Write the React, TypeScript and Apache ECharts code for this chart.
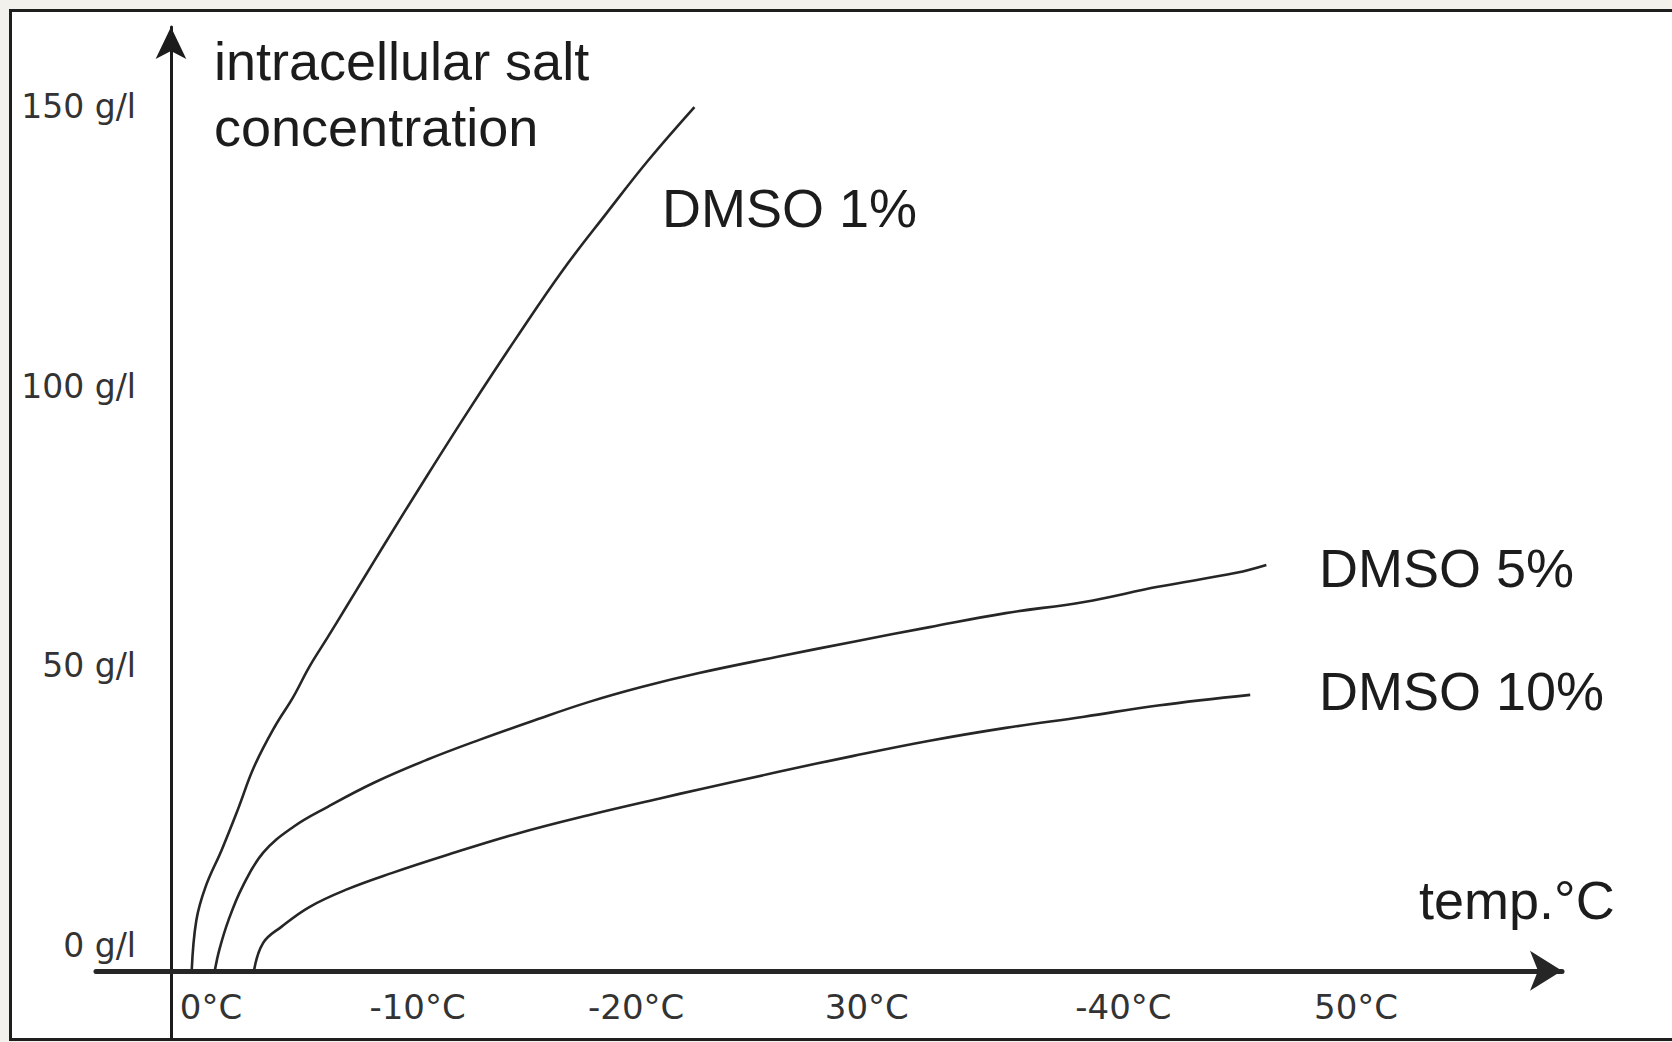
import React, { useEffect, useRef } from "react";
import * as echarts from "echarts";

// Tick positions and labels (temperature axis labels typed as in the original figure)
const xTickValues = [0, 10, 20, 30, 40, 50];
const xTickLabels = ["0°C", "-10°C", "-20°C", "30°C", "-40°C", "50°C"];
const yTickValues = [0, 50, 100, 150];
const yTickLabels = ["0 g/l", "50 g/l", "100 g/l", "150 g/l"];

// Series: [degrees below 0 °C, intracellular salt g/l]
const dmso1: number[][] = [
  [0.9, 0], [1.1, 9], [1.5, 15], [2.2, 21.6], [2.9, 28.8], [3.6, 36.4], [4.5, 43.6],
  [5.3, 48.9], [6.0, 54.3], [6.8, 59.6], [7.6, 65.0], [8.4, 70.4], [9.2, 75.8],
  [11.1, 88.4], [13.0, 100.7], [15.0, 113.2], [17.0, 125.2], [18.9, 135.4],
  [20.7, 144.8], [22.7, 154.3],
];
const dmso5: number[][] = [
  [1.9, 0], [2.1, 3.8], [2.5, 9.1], [3.1, 15.0], [4.0, 21.1], [5.3, 25.7], [6.8, 29.3],
  [8.8, 33.6], [11.1, 37.7], [13.4, 41.3], [15.8, 44.8], [18.1, 48.0], [20.4, 50.7],
  [22.9, 53.2], [26.3, 56.1], [29.6, 58.8], [32.9, 61.4], [36.2, 63.9], [39.6, 65.9],
  [42.8, 68.6], [46.2, 71.1], [47.5, 72.5],
];
const dmso10: number[][] = [
  [3.6, 0], [4.0, 5.0], [4.8, 7.9], [6.0, 11.4], [7.6, 14.5], [9.6, 17.5], [11.9, 20.6],
  [15.0, 24.5], [18.1, 27.8], [21.2, 30.8], [22.9, 32.4], [26.3, 35.5], [29.6, 38.4],
  [32.9, 41.1], [36.2, 43.4], [39.6, 45.4], [42.8, 47.4], [46.8, 49.3],
];

const seriesNames = ["DMSO 1%", "DMSO 5%", "DMSO 10%"];

const INK = "#1c1c1c";
const BIG_FONT = '54px "Liberation Sans", Arial, sans-serif';
const TICK_FONT_FAMILY = '"DejaVu Sans", sans-serif';
// left paddings that nudge each hand-placed temperature label like in the figure
const X_LABEL_NUDGE = [80, 32, 8, 8, 60, 64];

export default function App() {
  const ref = useRef<HTMLDivElement>(null);

  useEffect(() => {
    const chart = echarts.init(ref.current!, null, { renderer: "svg" });
    const lineSeries = [dmso1, dmso5, dmso10].map((d, i) => ({
      type: "line",
      name: seriesNames[i],
      data: d,
      smooth: 0.4,
      showSymbol: false,
      symbol: "none",
      clip: false,
      lineStyle: { color: "#262626", width: 2.6 },
      z: 3,
    }));

    const texts = [
      { text: "intracellular salt", x: 214, y: 61 },
      { text: "concentration", x: 214, y: 127 },
      { text: seriesNames[0], x: 662, y: 208 },
      { text: seriesNames[1], x: 1319, y: 568 },
      { text: seriesNames[2], x: 1319, y: 691 },
      { text: "temp.°C", x: 1419, y: 900 },
    ];

    const xRich: Record<string, any> = {};
    X_LABEL_NUDGE.forEach((p, i) => {
      xRich["t" + i] = {
        fontFamily: TICK_FONT_FAMILY,
        fontSize: 34,
        color: "#333",
        padding: [0, 0, 0, p],
      };
    });

    chart.setOption({
      animation: false,
      backgroundColor: "transparent",
      grid: {
        left: 96,
        right: 110,
        top: 27,
        bottom: 4,
        containLabel: false,
        outerBoundsMode: "none",
      },
      xAxis: {
        type: "value",
        min: -3.25,
        max: 60.32,
        axisLine: {
          onZero: true,
          symbol: ["none", "arrow"],
          symbolSize: [30, 32],
          lineStyle: { color: "#262626", width: 5 },
        },
        axisTick: { show: false },
        splitLine: { show: false },
        axisLabel: {
          customValues: xTickValues,
          formatter: (v: number) => {
            const i = xTickValues.indexOf(v);
            return i >= 0 ? `{t${i}|${xTickLabels[i]}}` : "";
          },
          rich: xRich,
          color: "#333",
          fontFamily: TICK_FONT_FAMILY,
          fontSize: 34,
          margin: -48,
        },
      },
      yAxis: {
        type: "value",
        min: -12,
        max: 168.6,
        axisLine: {
          onZero: true,
          symbol: ["none", "arrow"],
          symbolSize: [23, 32],
          lineStyle: { color: "#1c1c1c", width: 3 },
        },
        axisTick: { show: false },
        splitLine: { show: false },
        axisLabel: {
          customValues: yTickValues,
          formatter: (v: number) => {
            const i = yTickValues.indexOf(v);
            return i >= 0 ? yTickLabels[i] : "";
          },
          color: "#333",
          fontFamily: TICK_FONT_FAMILY,
          fontSize: 33,
          margin: -40,
          verticalAlign: "bottom",
          lineHeight: 50,
        },
      },
      graphic: texts.map((t) => ({
        type: "text",
        x: t.x,
        y: t.y,
        silent: true,
        style: {
          text: t.text,
          font: BIG_FONT,
          fill: INK,
          textAlign: "left",
          textVerticalAlign: "middle",
          align: "left",
          verticalAlign: "middle",
        },
      })),
      series: lineSeries,
    });

    return () => chart.dispose();
  }, []);

  return (
    <div
      style={{
        position: "fixed",
        left: 0,
        top: 0,
        width: 1672,
        height: 1042,
        overflow: "hidden",
        background: "#f3f1ec",
      }}
    >
      <div
        style={{
          position: "absolute",
          left: 9,
          top: 9,
          width: 1700,
          height: 1032,
          boxSizing: "border-box",
          border: "3px solid #1e1e1e",
          background: "#ffffff",
        }}
      />
      <div
        ref={ref}
        style={{ position: "absolute", left: 0, top: 0, width: 1672, height: 1042 }}
      />
    </div>
  );
}
